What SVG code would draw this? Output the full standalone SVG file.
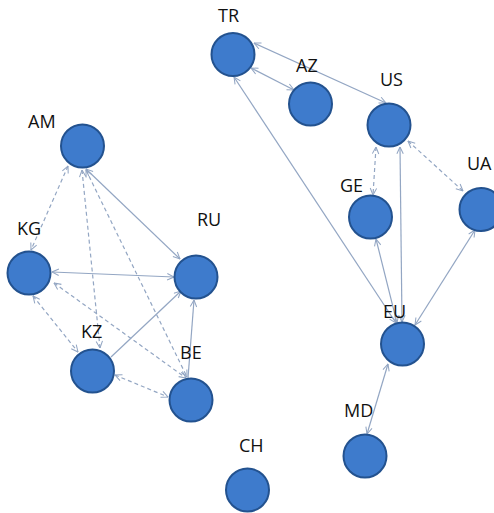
<svg xmlns="http://www.w3.org/2000/svg" width="494" height="513" viewBox="0 0 494 513">
<style>
.n{fill:#3e7bcc;stroke:#23528f;stroke-width:2}
.e{fill:none;stroke:#93a6c3;stroke-width:1.2;marker-end:url(#ah)}
.b{marker-start:url(#ah)}
.d{stroke-dasharray:4 3}
text{font-family:"Open Sans","Liberation Sans",sans-serif;font-size:18px;fill:#111}
</style>
<defs>
<marker id="ah" viewBox="0 0 10 10" refX="9.5" refY="5" markerWidth="8" markerHeight="8" markerUnits="userSpaceOnUse" orient="auto-start-reverse">
<path d="M1,1 L9.5,5 L1,9" fill="none" stroke="#93a6c3" stroke-width="1.3"/>
</marker>
</defs>
<rect width="494" height="513" fill="#fff"/>
<g id="connectors">
<line class="e b d" x1="68" y1="166" x2="31" y2="250"/>
<line class="e b d" x1="82" y1="170" x2="100" y2="348"/>
<line class="e b d" x1="86" y1="170" x2="187" y2="377"/>
<line class="e b" x1="86" y1="169" x2="180" y2="259"/>
<line class="e b" x1="52" y1="272" x2="174" y2="277"/>
<line class="e b d" x1="54" y1="283" x2="186" y2="378"/>
<line class="e b d" x1="33" y1="296" x2="78" y2="352"/>
<line class="e" x1="111" y1="357" x2="181" y2="291"/>
<line class="e b d" x1="115" y1="375" x2="168" y2="397"/>
<line class="e" x1="188" y1="378" x2="194" y2="300"/>
<line class="e b" x1="254" y1="43" x2="386" y2="103"/>
<line class="e b" x1="251" y1="68" x2="294" y2="90"/>
<line class="e b" x1="234" y1="77" x2="396" y2="323"/>
<line class="e b d" x1="376" y1="147" x2="373" y2="195"/>
<line class="e b d" x1="408" y1="141" x2="463" y2="191"/>
<line class="e b" x1="400" y1="147" x2="402" y2="322"/>
<line class="e b" x1="376" y1="239" x2="397" y2="323"/>
<line class="e b" x1="475" y1="230" x2="415" y2="325"/>
<line class="e b" x1="388" y1="364" x2="367" y2="434"/>
</g>
<g id="AM"><circle class="n" cx="82.5" cy="146" r="21.5"/><text x="28" y="128">AM</text></g>
<g id="KG"><circle class="n" cx="29" cy="273" r="21.5"/><text x="17" y="235">KG</text></g>
<g id="RU"><circle class="n" cx="196" cy="277" r="21.5"/><text x="197" y="226">RU</text></g>
<g id="KZ"><circle class="n" cx="92.5" cy="371" r="21.5"/><text x="81" y="338">KZ</text></g>
<g id="BE"><circle class="n" cx="191" cy="400" r="21.5"/><text x="180" y="359">BE</text></g>
<g id="TR"><circle class="n" cx="233" cy="54.5" r="21.5"/><text x="218" y="22">TR</text></g>
<g id="AZ"><circle class="n" cx="310.5" cy="104" r="21.5"/><text x="296" y="72">AZ</text></g>
<g id="US"><circle class="n" cx="389" cy="125" r="21.5"/><text x="380" y="86">US</text></g>
<g id="GE"><circle class="n" cx="370.5" cy="217" r="21.5"/><text x="340" y="192">GE</text></g>
<g id="UA"><circle class="n" cx="481" cy="209.5" r="21.5"/><text x="467" y="170">UA</text></g>
<g id="EU"><circle class="n" cx="402.5" cy="344" r="21.5"/><text x="383" y="318">EU</text></g>
<g id="MD"><circle class="n" cx="365" cy="456" r="21.5"/><text x="344" y="417">MD</text></g>
<g id="CH"><circle class="n" cx="247.5" cy="490" r="21.5"/><text x="239" y="452">CH</text></g>
</svg>
